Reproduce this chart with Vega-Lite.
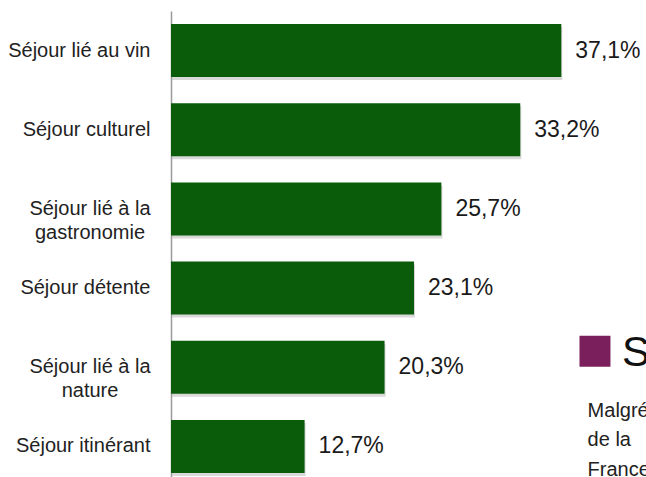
{
  "$schema": "https://vega.github.io/schema/vega-lite/v6.json",
  "autosize": {"type": "none"},
  "padding": {"left": 171, "top": 11, "right": 0, "bottom": 0},
  "width": 475,
  "height": 475,
  "background": "white",
  "config": {
    "view": {"stroke": null},
    "font": "Liberation Sans"
  },
  "datasets": {
    "bars": [
      {"categorie": "Séjour lié au vin", "part": 37.1, "label": "37,1%"},
      {"categorie": "Séjour culturel", "part": 33.2, "label": "33,2%"},
      {"categorie": "Séjour lié à la\ngastronomie", "part": 25.7, "label": "25,7%"},
      {"categorie": "Séjour détente", "part": 23.1, "label": "23,1%"},
      {"categorie": "Séjour lié à la\nnature", "part": 20.3, "label": "20,3%"},
      {"categorie": "Séjour itinérant", "part": 12.7, "label": "12,7%"}
    ],
    "fragments": [
      {"categorie": "Séjour itinérant", "pos": 39.6, "texte": "Malgré", "ligne": "a"},
      {"categorie": "Séjour itinérant", "pos": 39.6, "texte": "de la", "ligne": "b"},
      {"categorie": "Séjour itinérant", "pos": 39.6, "texte": "France", "ligne": "c"}
    ],
    "titre": [
      {"categorie": "Séjour lié à la\nnature", "pos": 40.3, "texte": "S"}
    ]
  },
  "encoding": {
    "y": {
      "field": "categorie",
      "type": "nominal",
      "sort": null,
      "scale": {
        "domain": ["Séjour lié au vin", "Séjour culturel", "Séjour lié à la\ngastronomie", "Séjour détente", "Séjour lié à la\nnature", "Séjour itinérant"],
        "paddingInner": 0.33,
        "paddingOuter": 0.165
      },
      "axis": {
        "title": null,
        "ticks": false,
        "labelPadding": 21,
        "labelFontSize": 20,
        "labelColor": "#222222",
        "labelExpr": "indexof(datum.label, '\\n') >= 0 ? '' : datum.label",
        "domainColor": "#9a9a9a",
        "domainWidth": 1.5,
        "grid": false
      }
    },
    "x": {
      "field": "part",
      "type": "quantitative",
      "scale": {"domain": [0, 45.15], "nice": false, "zero": true},
      "axis": null
    }
  },
  "layer": [
    {
      "data": {"name": "bars"},
      "mark": {"type": "bar", "color": "#b9b9b9", "opacity": 0.55, "yOffset": 3, "x2Offset": 1, "xOffset": 1},
      "encoding": {}
    },
    {
      "data": {"name": "bars"},
      "mark": {"type": "bar", "color": "#0a5b0a"},
      "encoding": {}
    },
    {
      "data": {"name": "bars"},
      "transform": [{"filter": "indexof(datum.categorie, '\\n') >= 0"}],
      "mark": {"type": "text", "align": "center", "baseline": "middle", "dx": -81, "fontSize": 20, "lineHeight": 24, "lineBreak": "\n", "color": "#222222"},
      "encoding": {"x": {"datum": 0}, "text": {"field": "categorie"}}
    },
    {
      "data": {"name": "bars"},
      "mark": {"type": "text", "align": "left", "baseline": "middle", "dx": 14, "fontSize": 23, "color": "#1a1a1a"},
      "encoding": {"text": {"field": "label"}}
    },
    {
      "data": {"name": "titre"},
      "mark": {"type": "point", "shape": "square", "filled": true, "size": 960, "color": "#7a1f5c", "opacity": 1, "yOffset": -16},
      "encoding": {"x": {"field": "pos", "type": "quantitative"}}
    },
    {
      "data": {"name": "titre"},
      "mark": {"type": "text", "align": "left", "baseline": "middle", "dx": 27, "dy": -14, "fontSize": 42, "color": "#111111", "clip": true},
      "encoding": {"x": {"field": "pos", "type": "quantitative"}, "text": {"field": "texte"}}
    },
    {
      "data": {"name": "fragments"},
      "transform": [{"filter": "datum.ligne == 'a'"}],
      "mark": {"type": "text", "align": "left", "baseline": "middle", "dy": -35, "fontSize": 20, "color": "#222222", "clip": true},
      "encoding": {"x": {"field": "pos", "type": "quantitative"}, "text": {"field": "texte"}}
    },
    {
      "data": {"name": "fragments"},
      "transform": [{"filter": "datum.ligne == 'b'"}],
      "mark": {"type": "text", "align": "left", "baseline": "middle", "dy": -6, "fontSize": 20, "color": "#222222", "clip": true},
      "encoding": {"x": {"field": "pos", "type": "quantitative"}, "text": {"field": "texte"}}
    },
    {
      "data": {"name": "fragments"},
      "transform": [{"filter": "datum.ligne == 'c'"}],
      "mark": {"type": "text", "align": "left", "baseline": "middle", "dy": 24, "fontSize": 20, "color": "#222222", "clip": true},
      "encoding": {"x": {"field": "pos", "type": "quantitative"}, "text": {"field": "texte"}}
    }
  ]
}
